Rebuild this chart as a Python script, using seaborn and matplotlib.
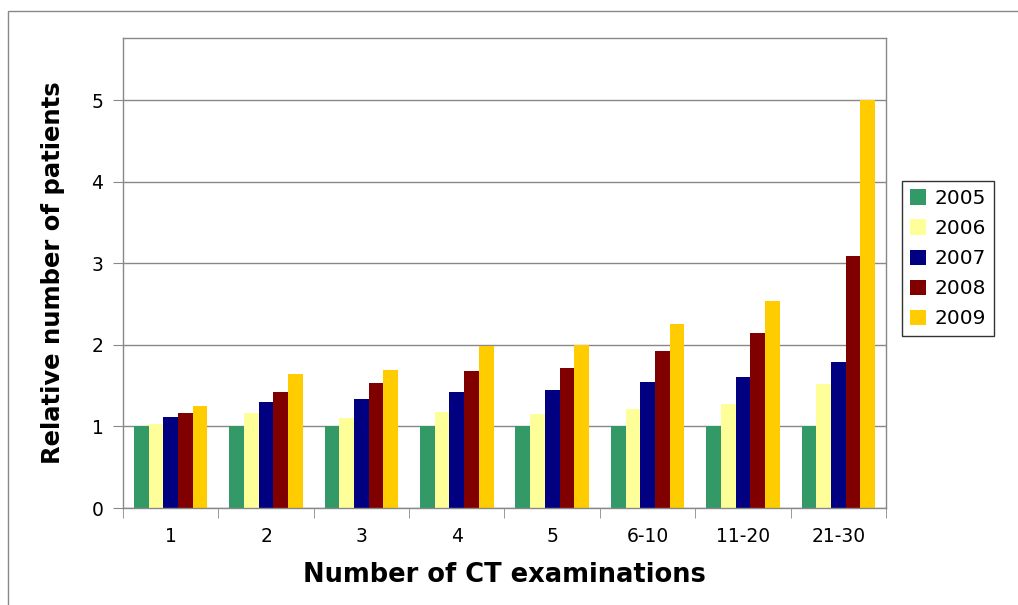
import matplotlib
matplotlib.use("Agg")
import matplotlib.pyplot as plt
import pandas as pd
import seaborn as sns
from matplotlib.patches import Rectangle

# data
categories = ["1", "2", "3", "4", "5", "6-10", "11-20", "21-30"]
years = ["2005", "2006", "2007", "2008", "2009"]
v2005 = [1.00, 1.00, 1.00, 1.00, 1.00, 1.00, 1.00, 1.00]
v2006 = [1.03, 1.16, 1.10, 1.18, 1.15, 1.21, 1.28, 1.52]
v2007 = [1.11, 1.30, 1.34, 1.42, 1.45, 1.55, 1.61, 1.79]
v2008 = [1.16, 1.42, 1.53, 1.68, 1.71, 1.92, 2.15, 3.09]
v2009 = [1.25, 1.64, 1.69, 1.98, 2.00, 2.25, 2.54, 5.00]
colors = ["#339966", "#FFFF99", "#000080", "#800000", "#FFCC00"]

rows = []
for year, vals in zip(years, [v2005, v2006, v2007, v2008, v2009]):
    for cat, v in zip(categories, vals):
        rows.append({"cat": cat, "year": year, "value": v})
df = pd.DataFrame(rows)

sns.set_style("white")
plt.rcParams['font.family'] = ['DejaVu Sans']
plt.rcParams['text.color'] = 'black'
plt.rcParams['axes.labelcolor'] = 'black'

fig = plt.figure(figsize=(10.18, 6.05), dpi=100)
ax = fig.add_axes([123/1018, 1 - 508/605, 763/1018, 470/605])

sns.barplot(data=df, x="cat", y="value", hue="year", palette=colors,
            width=0.77, linewidth=0, saturation=1, ax=ax, legend=True)

ax.set_ylim(0, 5.76)
ax.set_xlim(-0.5, len(categories) - 0.5)
ax.set_yticks([0, 1, 2, 3, 4, 5])
ax.yaxis.grid(True, color="#888888", linewidth=1)
ax.set_axisbelow(True)
for s in ax.spines.values():
    s.set_color("#888888")
    s.set_linewidth(1)

# ticks: category separators below the axis, labels in the middle
ax.set_xticks(range(len(categories)))
ax.set_xticklabels(categories, fontsize=13.5)
ax.tick_params(axis="x", which="major", length=0, pad=14, labelcolor="black")
ax.set_xticks([i - 0.5 for i in range(len(categories) + 1)], minor=True)
ax.tick_params(axis="x", which="minor", length=7, color="#888888", direction="out")
ax.tick_params(axis="y", length=7, color="#888888", direction="out", labelsize=13.5,
               pad=7, labelcolor="black")
ax.tick_params(axis="x", bottom=True, which="both")
ax.tick_params(axis="y", left=True)

ax.set_xlabel("Number of CT examinations", fontsize=18.5, fontweight="bold", labelpad=11)
ax.set_ylabel("Relative number of patients", fontsize=17.5, fontweight="bold", labelpad=19)

ax.legend(loc="upper left", bbox_to_anchor=(902/1018, 1 - 181/605),
          bbox_transform=fig.transFigure, fontsize=14.5, frameon=True,
          fancybox=False, edgecolor="black", handlelength=0.8, handleheight=0.8,
          handletextpad=0.4, labelspacing=0.55, borderpad=0.4, borderaxespad=0)
ax.get_legend().get_frame().set_linewidth(1)

# outer chart border
fig.patches.append(Rectangle((8/1018, -0.1), 1.1, 1 - 11/605 + 0.1,
                             transform=fig.transFigure, fill=False,
                             edgecolor="#888888", linewidth=1))

fig.savefig("out.png", dpi=100)
